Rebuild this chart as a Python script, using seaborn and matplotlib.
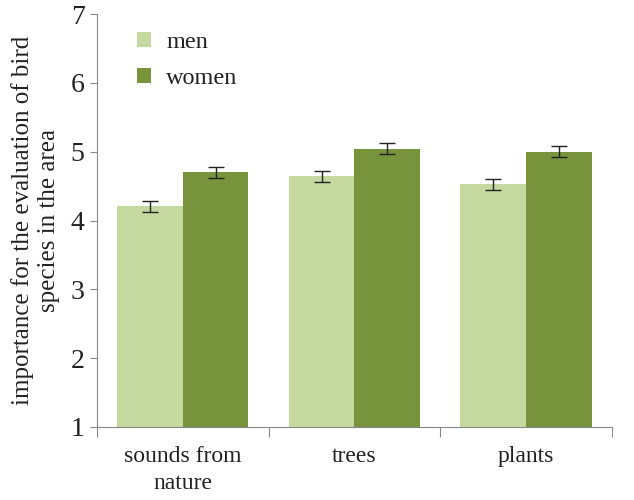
import matplotlib
matplotlib.use("Agg")
import matplotlib.pyplot as plt
import seaborn as sns
import pandas as pd
import numpy as np

categories = ["sounds from\nnature", "trees", "plants"]
groups = ["men", "women"]
men_values = [4.21, 4.64, 4.53]
women_values = [4.70, 5.04, 5.00]
men_err = [0.08, 0.08, 0.08]
women_err = [0.08, 0.08, 0.08]
colors = ["#c4d89f", "#77933c"]

sns.set_theme(style="white")
plt.rcParams['font.family'] = ['Liberation Serif', 'DejaVu Serif']

df = pd.DataFrame({
    "category": categories * 2,
    "group": ["men"] * 3 + ["women"] * 3,
    "value": men_values + women_values,
    "err": men_err + women_err,
})

fig = plt.figure(figsize=(6.34, 5.0), dpi=100)
ax = fig.add_axes([0.153, 0.146, 0.812, 0.826])
sns.barplot(data=df, x="category", y="value", hue="group", hue_order=groups,
            palette=colors, width=0.765, gap=0, errorbar=None, ax=ax,
            saturation=1, linewidth=0)

# error bars at bar centers
bars = [p for p in ax.patches if p.get_height() > 0][:6]
bars_sorted = sorted(bars, key=lambda p: p.get_x())
errs = []
for ci in range(3):
    errs += [men_err[ci], women_err[ci]]
for p, e in zip(bars_sorted, errs):
    ax.errorbar(p.get_x() + p.get_width() / 2, p.get_y() + p.get_height(), yerr=e,
                fmt="none", ecolor="#222222", elinewidth=1.0, capsize=6, capthick=1.0)

ax.set_ylim(1, 7)
ax.set_xlim(-0.5, 2.5)
ax.set_yticks(range(1, 8))
ax.tick_params(axis="y", labelsize=20, length=5, width=0.8, color="#888888", left=True, pad=4,
               labelcolor="#222222")
ax.tick_params(axis="x", labelsize=17, length=0, pad=14, labelcolor="#222222")
ax.set_xticks([-0.5, 0.5, 1.5, 2.5], minor=True)
ax.tick_params(axis="x", which="minor", length=7, width=0.8, color="#888888", bottom=True)
for lab in ax.get_xticklabels():
    lab.set_linespacing(1.35)
ax.set_xlabel("")
ax.set_ylabel("importance for the evaluation of bird\nspecies in the area", fontsize=18,
              labelpad=8, linespacing=1.2, color="#222222")
for s in ["top", "right"]:
    ax.spines[s].set_visible(False)
for s in ["left", "bottom"]:
    ax.spines[s].set_color("#888888")
    ax.spines[s].set_linewidth(0.8)

leg = ax.legend(loc="upper left", bbox_to_anchor=(0.035, 1.01), frameon=False, fontsize=17.5,
                handlelength=0.6, handleheight=0.6, handletextpad=0.6, labelspacing=0.6)
for t in leg.get_texts():
    t.set_color("#222222")

fig.savefig("out.png", dpi=100)
